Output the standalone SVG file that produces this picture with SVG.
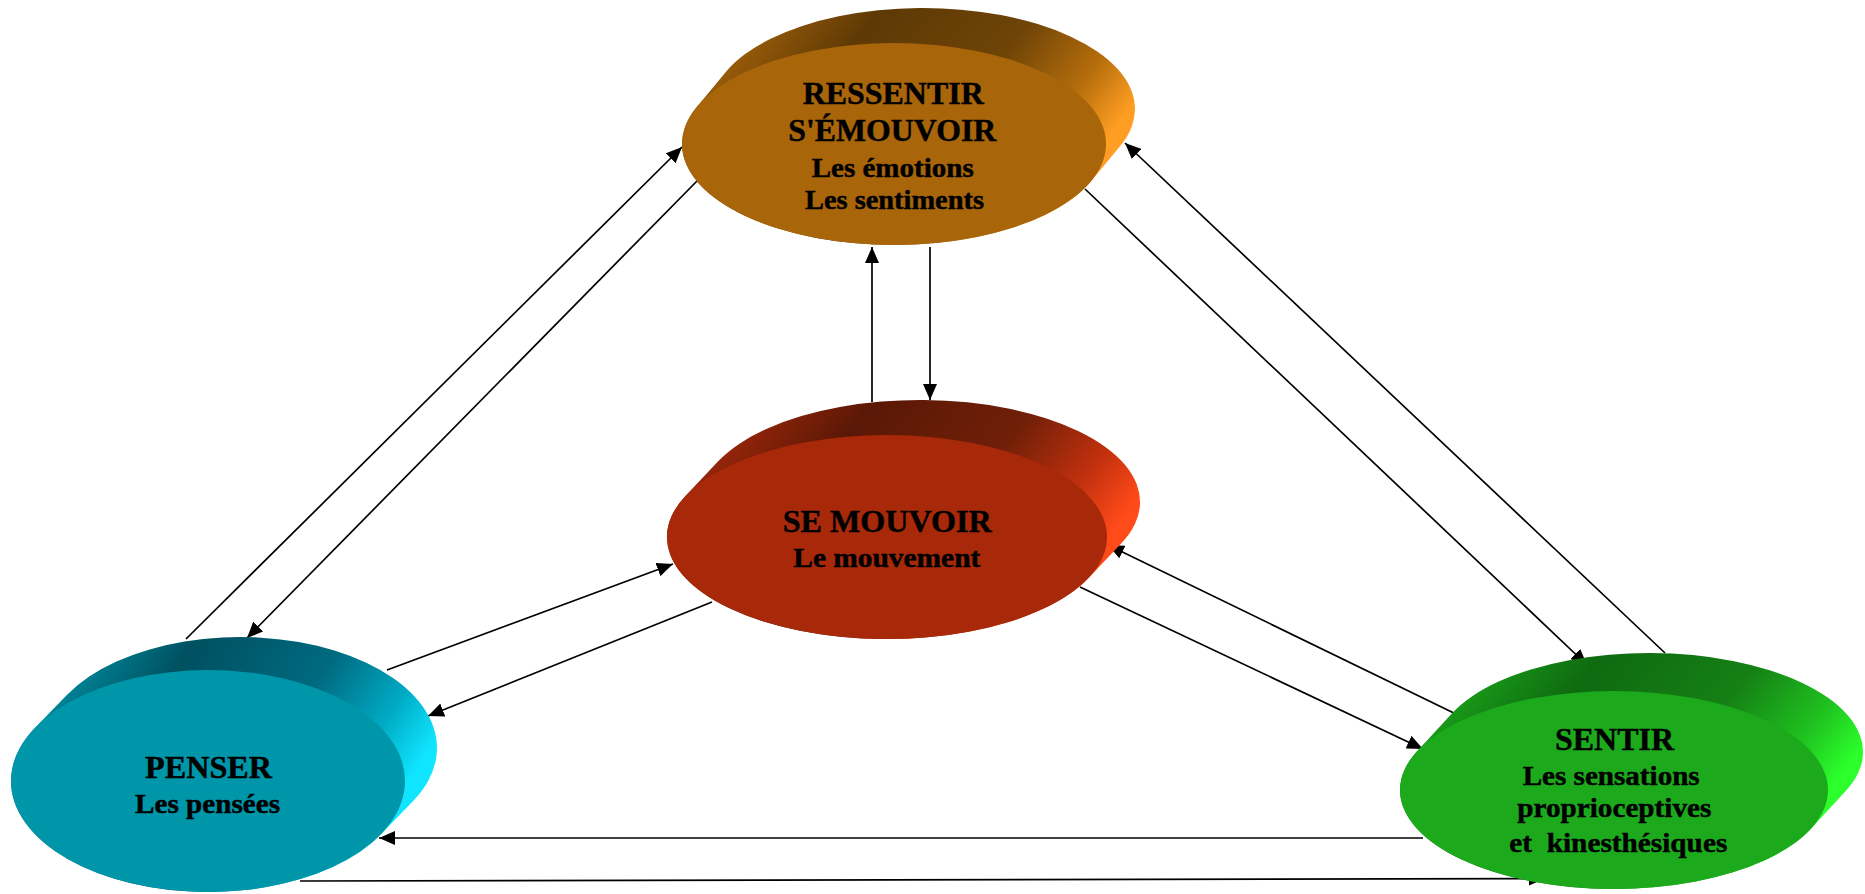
<svg xmlns="http://www.w3.org/2000/svg" width="1865" height="894" viewBox="0 0 1865 894">
<style>
.lbl{font-family:"Liberation Serif","Times New Roman",serif;font-weight:bold;fill:#000;stroke:#000;stroke-width:0.45px;}
.big{font-size:32px;}
.sm{font-size:27px;}
.conn line{stroke:#000;stroke-width:1.7;fill:none;marker-end:url(#ah);}
</style>
<defs>
<marker id="ah" markerUnits="userSpaceOnUse" markerWidth="17" markerHeight="14" refX="16" refY="7" orient="auto" viewBox="0 0 17 14">
<path d="M0,0 L16,7 L0,14 Z" fill="#000"/>
</marker>
<linearGradient id="gO" x1="0" y1="0" x2="1" y2="0.4">
<stop offset="0" stop-color="#a8650a"/><stop offset="0.14" stop-color="#a0600a"/><stop offset="0.38" stop-color="#5e3905"/><stop offset="0.68" stop-color="#6e4407"/><stop offset="0.87" stop-color="#b56d0c"/><stop offset="1" stop-color="#ff9e22"/>
</linearGradient>
<linearGradient id="gR" x1="0" y1="0" x2="1" y2="0.4">
<stop offset="0" stop-color="#a8290a"/><stop offset="0.14" stop-color="#a0270a"/><stop offset="0.38" stop-color="#5a1806"/><stop offset="0.68" stop-color="#701f08"/><stop offset="0.87" stop-color="#c0300e"/><stop offset="1" stop-color="#ff4a1a"/>
</linearGradient>
<linearGradient id="gB" x1="0" y1="0" x2="1" y2="0.4">
<stop offset="0" stop-color="#0096aa"/><stop offset="0.14" stop-color="#008ea2"/><stop offset="0.38" stop-color="#005060"/><stop offset="0.68" stop-color="#006a80"/><stop offset="0.87" stop-color="#00aac4"/><stop offset="1" stop-color="#10e5ff"/>
</linearGradient>
<linearGradient id="gG" x1="0" y1="0" x2="1" y2="0.4">
<stop offset="0" stop-color="#1caa1c"/><stop offset="0.14" stop-color="#1aa21a"/><stop offset="0.38" stop-color="#0f6a10"/><stop offset="0.68" stop-color="#158015"/><stop offset="0.87" stop-color="#1fc01f"/><stop offset="1" stop-color="#2cff2c"/>
</linearGradient>
</defs>
<rect width="1865" height="894" fill="#fff"/>

<g id="connectors" class="conn">
<line x1="186" y1="639" x2="682" y2="147"/>
<line x1="697" y1="181" x2="247" y2="638"/>
<line x1="872" y1="402" x2="872" y2="247"/>
<line x1="930" y1="247" x2="930" y2="400"/>
<line x1="1665" y1="653" x2="1125" y2="143"/>
<line x1="1085" y1="189" x2="1587" y2="665"/>
<line x1="1460" y1="716" x2="1108" y2="545"/>
<line x1="1080" y1="587" x2="1423" y2="749"/>
<line x1="387" y1="670" x2="673" y2="564"/>
<line x1="712" y1="602" x2="428" y2="716"/>
<line x1="1423" y1="838" x2="379" y2="838"/>
<line x1="300" y1="881" x2="1545" y2="878.5"/>
</g>

<g id="ressentir">
<path d="M696.8,106.9 L725.8,71.9 A212,101 0 0 1 1120.2,146.1 L1091.2,181.1 A212,101 0 0 1 696.8,106.9 Z" fill="url(#gO)"/>
<ellipse cx="894" cy="144" rx="212" ry="101" fill="#a8650a"/>
<text class="lbl big" x="802.7" y="104" textLength="181" lengthAdjust="spacingAndGlyphs">RESSENTIR</text>
<text class="lbl big" x="788.3" y="141" textLength="208" lengthAdjust="spacingAndGlyphs">S'ÉMOUVOIR</text>
<text class="lbl sm" x="811.7" y="177" textLength="162" lengthAdjust="spacingAndGlyphs">Les émotions</text>
<text class="lbl sm" x="805" y="208.5" textLength="179" lengthAdjust="spacingAndGlyphs">Les sentiments</text>
</g>

<g id="semouvoir">
<path d="M685.4,496.1 L718.4,461.1 A220,102 0 0 1 1121.6,542.9 L1088.6,577.9 A220,102 0 0 1 685.4,496.1 Z" fill="url(#gR)"/>
<ellipse cx="887" cy="537" rx="220" ry="102" fill="#a8290a"/>
<text class="lbl big" x="782.7" y="532" textLength="209" lengthAdjust="spacingAndGlyphs">SE MOUVOIR</text>
<text class="lbl sm" x="793.3" y="567" textLength="187" lengthAdjust="spacingAndGlyphs">Le mouvement</text>
</g>

<g id="penser">
<path d="M35.1,727.8 L67.1,694.8 A197,111 0 0 1 412.9,801.2 L380.9,834.2 A197,111 0 0 1 35.1,727.8 Z" fill="url(#gB)"/>
<ellipse cx="208" cy="781" rx="197" ry="111" fill="#0096aa"/>
<text class="lbl big" x="145" y="778" textLength="127" lengthAdjust="spacingAndGlyphs">PENSER</text>
<text class="lbl sm" x="135" y="812.5" textLength="145" lengthAdjust="spacingAndGlyphs">Les pensées</text>
</g>

<g id="sentir">
<path d="M1417.1,751.2 L1452.1,713.2 A214,99 0 0 1 1845.9,790.8 L1810.9,828.8 A214,99 0 0 1 1417.1,751.2 Z" fill="url(#gG)"/>
<ellipse cx="1614" cy="790" rx="214" ry="99" fill="#1caa1c"/>
<text class="lbl big" x="1555" y="750" textLength="119" lengthAdjust="spacingAndGlyphs">SENTIR</text>
<text class="lbl sm" x="1522.7" y="785" textLength="177" lengthAdjust="spacingAndGlyphs">Les sensations</text>
<text class="lbl sm" x="1517.3" y="817" textLength="194" lengthAdjust="spacingAndGlyphs">proprioceptives</text>
<text class="lbl sm" x="1509.3" y="852" textLength="218" lengthAdjust="spacingAndGlyphs" xml:space="preserve">et  kinesthésiques</text>
</g>
</svg>
